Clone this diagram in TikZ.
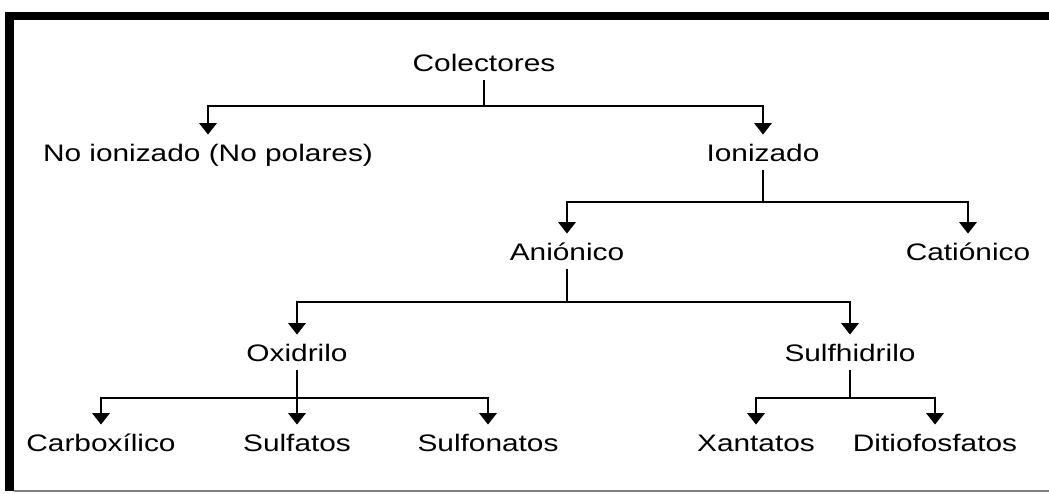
\documentclass[tikz,border=0pt]{standalone}
\usepackage{fontspec}
\setmainfont{Liberation Sans}[FakeStretch=1.25]
\usetikzlibrary{arrows.meta}
\begin{document}
\begin{tikzpicture}[x=0.75pt,y=-0.75pt,
  lbl/.style={anchor=base,inner xsep=0pt,inner ysep=6.75pt,text height=12.9pt,text depth=0pt,
    font=\fontsize{17.9pt}{20pt}\selectfont},
  stem/.style={line width=1.6pt},
  arr/.style={line width=1.3pt,-{Triangle[width=13pt,length=8.5pt]}}]
\useasboundingbox (0,0) rectangle (1049,493);
% frame
\fill[black] (5,12) rectangle (1049,20);
\fill[black] (5,12) rectangle (14,491);
\draw[gray,line width=0.9pt] (14,491) -- (1049,491);
% nodes
\node[lbl] (col) at (484,71) {Colectores};
\node[lbl] (noion) at (208,161) {No ionizado (No polares)};
\node[lbl] (ion) at (763,161) {Ionizado};
\node[lbl] (ani) at (567,260) {Aniónico};
\node[lbl] (cat) at (968,260) {Catiónico};
\node[lbl] (oxi) at (297,361) {Oxidrilo};
\node[lbl] (sul) at (850,361) {Sulfhidrilo};
\node[lbl] (carb) at (101,451) {Carboxílico};
\node[lbl] (sulfa) at (297,451) {Sulfatos};
\node[lbl] (sulfo) at (488,451) {Sulfonatos};
\node[lbl] (xan) at (756,451) {Xantatos};
\node[lbl] (dit) at (935,451) {Ditiofosfatos};
% junctions
\coordinate (j0) at (484,106);
\coordinate (j1) at (763,202);
\coordinate (j2) at (567,302);
\coordinate (j3) at (297,398);
\coordinate (j4) at (850,398);
% connectors
\draw[stem] (col.south) -- (j0);
\draw[arr] (j0) -| (noion.north);
\draw[arr] (j0) -| (ion.north);
\draw[stem] (ion.south) -- (j1);
\draw[arr] (j1) -| (ani.north);
\draw[arr] (j1) -| (cat.north);
\draw[stem] (ani.south) -- (j2);
\draw[arr] (j2) -| (oxi.north);
\draw[arr] (j2) -| (sul.north);
\draw[stem] (oxi.south) -- (j3);
\draw[arr] (j3) -| (carb.north);
\draw[arr] (j3) -- (sulfa.north);
\draw[arr] (j3) -| (sulfo.north);
\draw[stem] (sul.south) -- (j4);
\draw[arr] (j4) -| (xan.north);
\draw[arr] (j4) -| (dit.north);
\end{tikzpicture}
\end{document}
